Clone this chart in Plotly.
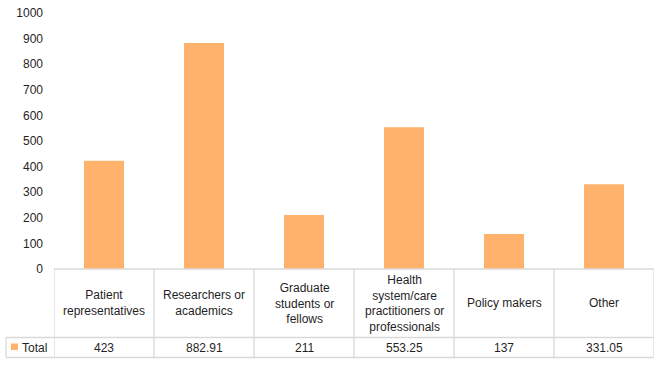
import plotly.graph_objects as go

categories = ["Patient representatives", "Researchers or academics", "Graduate students or fellows",
              "Health system/care practitioners or professionals", "Policy makers", "Other"]
header_labels = ["Patient<br>representatives", "Researchers or<br>academics", "Graduate<br>students or<br>fellows",
                 "Health<br>system/care<br>practitioners or<br>professionals", "Policy makers", "Other"]
values = [423, 882.91, 211, 553.25, 137, 331.05]
value_labels = ["423", "882.91", "211", "553.25", "137", "331.05"]
series_name = "Total"
y_ticks = [0, 100, 200, 300, 400, 500, 600, 700, 800, 900, 1000]

BAR = "#FFB26B"
GRID = "#D9D9D9"
FONT = "Liberation Sans"
TXT = "#1f1f1f"
FS = 12

W, H = 661, 365
L, R, T, B = 54, 7, 13, 96
ph = H - T - B

def py(p):  # pixel y -> paper y
    return (H - B - p) / ph

def px(p):  # pixel x -> paper x
    return (p - L) / (W - L - R)

xs = list(range(len(categories)))
fig = go.Figure(go.Bar(x=xs, y=values, width=0.4, marker=dict(color=BAR, line=dict(width=0)),
                       name=series_name, hoverinfo="y"))

shapes = []
line = dict(color=GRID, width=1.3)
shapes.append(dict(type="line", xref="x", yref="paper", x0=-0.5, x1=5.5, y0=py(269), y1=py(269), line=line))
shapes.append(dict(type="line", xref="paper", yref="paper", x0=px(6), x1=1, y0=py(337.5), y1=py(337.5), line=line))
shapes.append(dict(type="line", xref="paper", yref="paper", x0=px(6), x1=1, y0=py(357.5), y1=py(357.5), line=line))
shapes.append(dict(type="line", xref="paper", yref="paper", x0=px(6), x1=px(6), y0=py(337.5), y1=py(357.5), line=line))
for i in range(len(categories) + 1):
    shapes.append(dict(type="line", xref="x", yref="paper", x0=i - 0.5, x1=i - 0.5, y0=py(269), y1=py(357.5), line=line))
shapes.append(dict(type="rect", xref="paper", yref="paper", x0=px(11), x1=px(18), y0=py(350), y1=py(343.5),
                   fillcolor=BAR, line=dict(width=0)))

annotations = []
for i, lab in enumerate(header_labels):
    annotations.append(dict(x=i, y=py(303), xref="x", yref="paper", text=lab, showarrow=False,
                            xanchor="center", yanchor="middle", font=dict(family=FONT, size=FS, color=TXT)))
for i, v in enumerate(value_labels):
    annotations.append(dict(x=i, y=py(347.5), xref="x", yref="paper", text=v, showarrow=False,
                            xanchor="center", yanchor="middle", font=dict(family=FONT, size=FS, color=TXT)))
annotations.append(dict(x=px(19.5), y=py(347.5), xref="paper", yref="paper", text=series_name, showarrow=False,
                        xanchor="left", yanchor="middle", font=dict(family=FONT, size=FS, color=TXT)))

fig.update_layout(
    width=W, height=H, margin=dict(l=L, r=R, t=T, b=B, autoexpand=False),
    paper_bgcolor="white", plot_bgcolor="white",
    showlegend=False,
    xaxis=dict(range=[-0.5, 5.5], showticklabels=False, showgrid=False, zeroline=False, showline=False,
               ticks="", automargin=False),
    yaxis=dict(range=[0, 1000], tickvals=y_ticks, showgrid=False, zeroline=False, showline=False,
               ticks="", ticklabelstandoff=10, automargin=False,
               tickfont=dict(family=FONT, size=FS, color=TXT)),
    shapes=shapes, annotations=annotations,
    font=dict(family=FONT, size=FS, color=TXT),
)

fig.write_html("out.html", config={"displayModeBar": False},
               post_script="document.body.style.margin='0px';document.body.style.overflow='hidden';")
